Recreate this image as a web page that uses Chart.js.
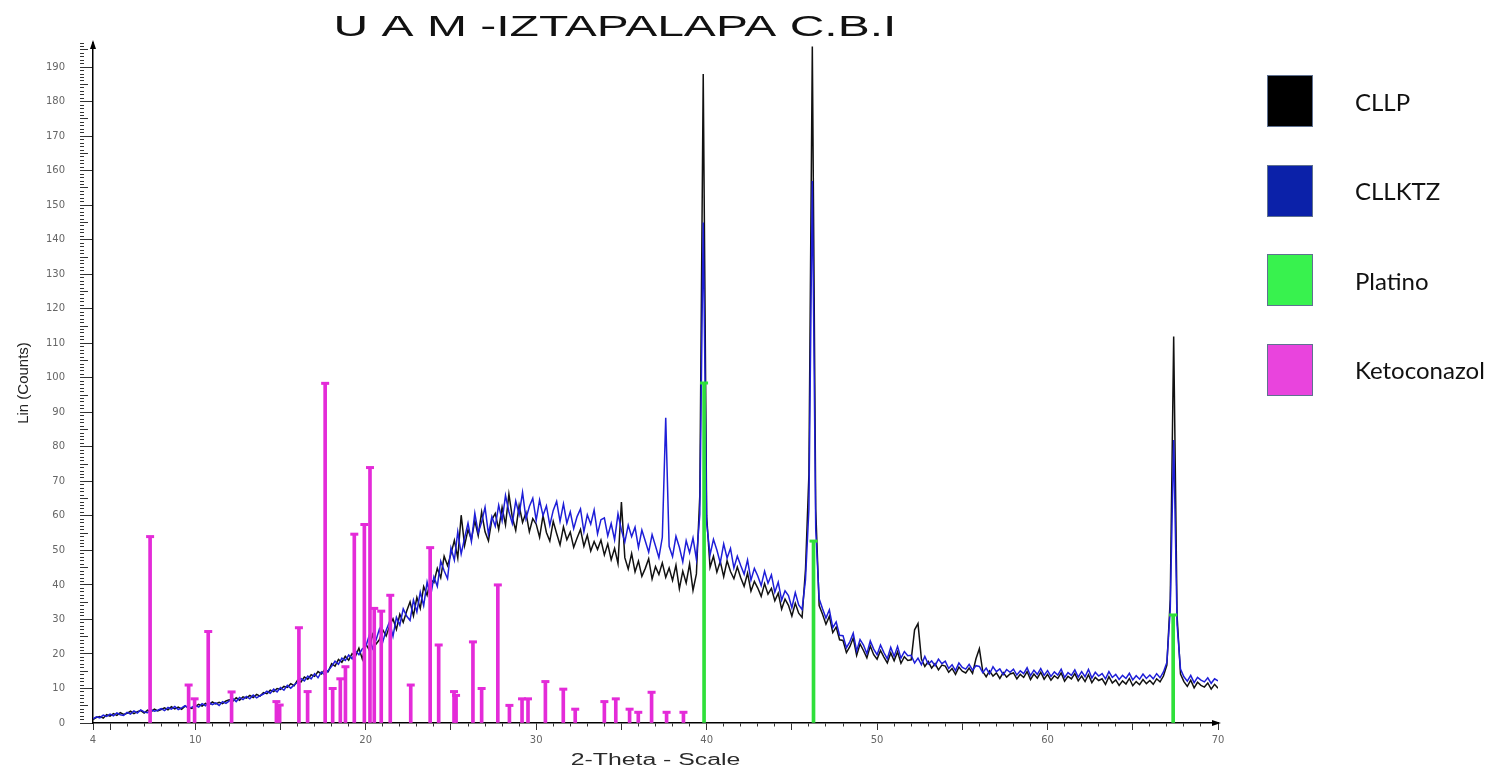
<!DOCTYPE html>
<html>
<head>
<meta charset="utf-8">
<title>UAM-Iztapalapa CBI - DRX</title>
<script src="https://cdn.jsdelivr.net/npm/chart.js@4.4.1/dist/chart.umd.min.js"></script>
<style>
    body { margin: 0; background: #fff; }
    #wrap { position: relative; width: 1507px; height: 768px; overflow: hidden; }
    #myChart { position: absolute; left: 0; top: 0; }
    #legend { position: absolute; left: 1267px; top: 75px; }
    .item { display: flex; align-items: center; height: 52px; margin-bottom: 37.5px; }
    .box { width: 46px; height: 52px; box-sizing: border-box; border: 1px solid #5f7190; }
    .name { margin-left: 42px; font: 24px Lato, "Open Sans", sans-serif; color: #111; }
</style>
</head>
<body>
<div id="wrap">
    <canvas id="myChart" width="1507" height="768"></canvas>
    <div id="legend"></div>
</div>
<script>
// 2-theta grid of the two scans (degrees)
const thetaStart = 4;
const thetaStep = 0.2;

// CLLP scan, counts every 0.2 deg from 4 to 70
const cllp = [
    1.0, 1.6, 1.9, 1.4, 2.4, 2.0, 2.7, 2.2, 3.0, 2.5,
    2.8, 3.4, 2.7, 3.3, 3.6, 2.9, 3.7, 3.2, 4.0, 3.5,
    3.9, 4.4, 3.8, 4.7, 4.1, 4.6, 4.0, 4.9, 4.5, 4.2,
    4.8, 5.4, 4.9, 5.7, 5.2, 6.1, 5.5, 6.0, 5.6, 6.4,
    6.7, 6.3, 7.3, 6.6, 7.6, 7.2, 8.0, 7.4, 8.3, 7.8,
    8.8, 8.5, 9.5, 9.1, 10.0, 9.7, 10.6, 10.3, 11.4, 10.8,
    12.4, 11.9, 13.3, 12.7, 14.0, 13.5, 14.9, 14.2, 15.5, 14.9,
    17.2, 16.5, 18.4, 17.6, 19.3, 18.2, 20.1, 19.4, 21.7, 18.5,
    23.0, 21.2, 25.6, 22.8, 24.1, 27.0, 25.2, 28.1, 30.2, 27.1,
    31.5, 29.2, 32.4, 35.1, 31.0, 36.4, 33.2, 39.5, 37.0, 41.6,
    40.7, 44.8, 42.1, 48.3, 45.6, 49.0, 52.9, 47.8, 60.2, 51.4,
    56.0, 53.2, 58.6, 54.3, 61.1, 55.4, 52.8, 58.9, 60.7, 56.1,
    62.5, 57.4, 66.3, 59.6, 55.8, 63.0, 58.1, 60.9, 55.4, 59.2,
    57.6, 53.8, 60.1, 55.2, 52.7, 58.4, 54.9, 51.6, 56.8, 53.1,
    55.3, 50.9, 53.6, 56.1, 51.2, 54.4, 49.8, 52.6, 50.3, 53.0,
    48.7, 51.9, 47.3, 50.6, 46.2, 64.0, 47.9, 44.6, 49.1, 43.8,
    46.9, 42.5, 44.8, 47.6, 41.7, 45.3, 43.0, 46.4, 42.2, 44.9,
    41.3, 45.7, 38.9, 44.0, 40.6, 46.1, 38.4, 43.2, 66.0, 188.0,
    60.0, 45.1, 48.3, 43.7, 46.8, 42.4, 47.0, 43.9, 41.8, 45.2,
    42.1, 39.6, 43.4, 38.2, 41.0, 39.1, 36.7, 40.4, 37.3, 39.0,
    35.4, 37.6, 33.0, 35.9, 34.1, 31.0, 34.7, 31.8, 30.6, 44.5,
    72.0, 196.0, 62.0, 34.0, 31.5, 28.6, 30.9, 26.2, 27.8, 24.1,
    23.9, 20.4, 22.1, 24.6, 19.6, 22.9, 21.0, 18.9, 22.3, 19.8,
    18.5, 21.0, 19.1, 17.4, 20.3, 18.0, 20.6, 17.3, 19.2, 18.1,
    18.3, 27.0, 28.8, 18.5, 16.4, 17.8, 15.9, 17.2, 15.4, 16.8,
    16.5, 14.7, 15.8, 14.1, 16.2, 15.0, 14.5, 15.9, 14.4, 18.6,
    21.5, 14.9, 13.4, 15.1, 13.6, 14.5, 12.9, 14.6, 13.3, 14.2,
    14.5, 12.8, 14.1, 13.2, 14.9, 12.6, 14.2, 13.0, 14.7, 12.7,
    14.1, 12.4, 13.7, 12.9, 14.5, 12.1, 13.5, 12.8, 14.3, 12.2,
    13.6, 12.0, 14.0, 11.7, 13.2, 12.3, 12.8, 11.2, 13.4, 11.6,
    12.5, 10.9, 12.2, 11.3, 12.9, 10.8, 12.0, 11.1, 12.6, 11.4,
    12.3, 11.2, 12.8, 11.9, 13.6, 16.8, 36.0, 112.0, 31.0, 14.2,
    12.0, 10.6, 12.4, 10.2, 11.8, 10.9, 10.4, 11.6, 9.8, 11.2,
    10.1
];

// CLLKTZ scan, same grid
const cllktz = [
    1.2, 1.8, 1.5, 2.3, 1.9, 2.6, 2.1, 2.9, 2.4, 2.2,
    3.1, 2.6, 3.5, 2.9, 3.8, 3.2, 3.0, 3.9, 3.4, 3.7,
    4.2, 3.6, 4.5, 4.0, 4.8, 3.9, 4.4, 5.0, 4.3, 4.6,
    5.1, 4.6, 5.6, 5.0, 6.0, 5.3, 5.8, 5.1, 6.2, 5.7,
    6.4, 7.1, 6.2, 7.4, 6.8, 7.7, 7.0, 8.1, 7.3, 7.9,
    8.4, 9.2, 8.6, 9.8, 9.0, 10.3, 9.5, 10.9, 10.1, 11.0,
    11.8, 12.9, 12.2, 13.6, 12.8, 14.3, 13.1, 14.8, 13.9, 15.2,
    16.4, 17.9, 17.0, 18.8, 18.1, 19.7, 18.6, 20.9, 19.8, 21.5,
    22.1, 25.3, 21.6, 24.0, 27.2, 23.5, 26.9, 29.4, 25.1, 30.6,
    28.4, 33.1, 31.0, 29.7, 35.6, 32.2, 37.9, 34.0, 40.8, 36.5,
    42.3, 39.6, 46.9, 44.1, 41.8, 50.7, 47.2, 55.4, 49.0, 53.6,
    57.9, 52.6, 60.8, 55.1, 58.2, 62.5, 54.7, 59.8, 57.0, 63.1,
    58.6, 65.9, 61.2, 57.8, 64.3, 60.4, 66.8, 59.2, 62.7, 65.1,
    58.7, 64.6, 60.1, 62.9, 57.3, 61.6, 64.2, 58.4, 63.5, 57.9,
    61.2, 56.3, 59.8, 62.0, 55.4, 60.3, 57.6, 61.7, 54.8, 58.9,
    59.4, 54.2, 57.8, 53.1, 60.6, 55.9, 52.4, 57.3, 54.0, 56.7,
    50.8, 55.9, 52.7, 49.5, 54.6, 51.3, 47.9, 53.8, 88.4, 51.2,
    48.2, 54.1, 50.9, 46.7, 52.8, 49.3, 53.6, 47.4, 60.5, 145.0,
    58.0, 48.7, 53.2, 50.1, 46.4, 51.9, 47.8, 50.6, 44.9, 48.3,
    45.6, 43.1, 47.2, 41.4, 44.8, 42.6, 39.8, 44.0, 40.5, 42.9,
    37.9, 40.8, 35.6, 38.3, 36.9, 33.4, 37.8, 34.2, 32.9, 41.5,
    62.0, 157.0, 56.0, 36.0, 33.1, 30.4, 32.8, 27.6, 29.3, 25.4,
    25.3, 21.8, 23.5, 26.0, 20.9, 24.2, 22.6, 20.1, 23.8, 21.4,
    19.8, 22.6, 20.4, 18.6, 21.9, 19.3, 22.2, 18.8, 20.7, 19.5,
    19.6, 17.4, 18.8, 16.9, 19.3, 17.1, 18.0, 16.6, 18.5, 17.2,
    17.9, 15.8, 16.9, 15.2, 17.4, 16.1, 15.6, 17.0, 15.3, 16.6,
    16.4, 14.6, 15.9, 14.2, 16.3, 14.9, 15.7, 14.0, 15.5, 14.7,
    15.6, 13.9, 15.1, 14.3, 16.0, 13.7, 15.3, 14.1, 15.8, 13.8,
    15.2, 13.5, 14.8, 13.9, 15.6, 13.2, 14.6, 13.8, 15.4, 13.3,
    14.9, 13.4, 15.5, 13.0, 14.7, 13.6, 14.3, 12.8, 14.9, 13.2,
    14.1, 12.6, 13.8, 12.9, 14.4, 12.5, 13.7, 12.7, 14.2, 12.9,
    13.9, 12.8, 14.3, 13.1, 14.8, 17.5, 33.0, 82.0, 28.5, 15.6,
    13.4, 12.1, 13.8, 11.7, 13.2, 12.4, 11.9, 13.1, 11.5, 12.8,
    12.2
];

// reference patterns (stick lines)
const platinoTheta = [39.85, 46.27, 67.37];
const platinoCounts = [98.5, 52.7, 31.3];

const ketoTheta = [7.35, 9.61, 9.96, 10.76, 12.13, 14.76, 14.95, 16.08, 16.59, 17.62,
    18.06, 18.51, 18.81, 19.33, 19.92, 20.25, 20.5, 20.91, 21.44, 22.64,
    23.78, 24.28, 25.18, 25.3, 26.29, 26.8, 27.75, 28.43, 29.17, 29.52,
    30.54, 31.59, 32.29, 34.0, 34.67, 35.48, 35.99, 36.77, 37.65, 38.64];
const ketoCounts = [54, 11, 7, 26.5, 9, 6.2, 5.2, 27.6, 9.1, 98.4,
    10, 12.8, 16.3, 54.7, 57.5, 74, 33.2, 32.4, 37, 11,
    50.8, 22.6, 9.1, 8, 23.5, 10, 40, 5.1, 7, 7,
    12, 9.8, 4, 6.2, 7, 4, 3.1, 8.9, 3.1, 3.1];

const seriesNames = ['CLLP', 'CLLKTZ', 'Platino', 'Ketoconazol'];
const legendColors = ['#000000', '#0b21a9', '#38f24e', '#e944dd'];

const titleText = 'U A M -IZTAPALAPA C.B.I';
const xTitle = '2-Theta - Scale';
const yTitle = 'Lin (Counts)';

function scan(values) {
    return values.map((v, i) => ({ x: +(thetaStart + i * thetaStep).toFixed(1), y: v }));
}
function sticks(theta, counts) {
    return theta.map((t, i) => ({ x: t, y: counts[i] }));
}

// text squeezed out sideways, like the old diffractometer printout
function wideText(ctx, text, x, y, font, sx, color) {
    ctx.save();
    ctx.translate(x, y);
    ctx.scale(sx, 1);
    ctx.font = font;
    ctx.fillStyle = color;
    ctx.textAlign = 'center';
    ctx.textBaseline = 'middle';
    ctx.fillText(text, 0, 0);
    ctx.restore();
}

const decorations = {
    id: 'decorations',
    afterDraw(chart) {
        const ctx = chart.ctx;
        const area = chart.chartArea;
        ctx.save();
        ctx.fillStyle = '#000';
        // arrow heads on the axes
        ctx.beginPath();
        ctx.moveTo(area.left, area.top - 3);
        ctx.lineTo(area.left - 3, area.top + 6);
        ctx.lineTo(area.left + 3, area.top + 6);
        ctx.fill();
        ctx.beginPath();
        ctx.moveTo(area.right + 3, area.bottom);
        ctx.lineTo(area.right - 6, area.bottom - 3);
        ctx.lineTo(area.right - 6, area.bottom + 3);
        ctx.fill();
        ctx.restore();
        wideText(ctx, titleText, 615, 28, '30px "Liberation Sans", Arial', 1.6, '#111');
        wideText(ctx, xTitle, (area.left + area.right) / 2, 761, '16px "Liberation Sans", Arial', 1.55, '#2a2a2a');
    }
};

function yDash(c) {
    let v = Math.round(c.tick.value);
    if (v % 10 === 0) return [];
    if (v % 5 === 0) return [8, 40];
    return [4, 40];
}
function xDash(c) {
    let v = Math.round(c.tick.value);
    if (v % 5 === 0 || v === 4) return [];
    return [3, 40];
}

const tickFont = { family: 'DejaVu Sans', size: 10 };

const config = {
    type: 'line',
    data: {
        datasets: [
            {
                type: 'scatter', data: sticks(ketoTheta, ketoCounts),
                pointStyle: 'line', pointRadius: 4, borderWidth: 3,
                borderColor: '#e42bd8', backgroundColor: '#e42bd8', order: 0
            },
            {
                type: 'bar', label: seriesNames[3], data: sticks(ketoTheta, ketoCounts),
                backgroundColor: '#e42bd8', barThickness: 3, grouped: false, order: 1
            },
            {
                type: 'scatter', data: sticks(platinoTheta, platinoCounts),
                pointStyle: 'line', pointRadius: 4, borderWidth: 3,
                borderColor: '#2fe03a', backgroundColor: '#2fe03a', order: 2
            },
            {
                type: 'bar', label: seriesNames[2], data: sticks(platinoTheta, platinoCounts),
                backgroundColor: '#2fe03a', barThickness: 3, grouped: false, order: 3
            },
            {
                label: seriesNames[1], data: scan(cllktz),
                borderColor: '#1e1ed8', borderWidth: 1.5, pointRadius: 0, tension: 0, order: 4
            },
            {
                label: seriesNames[0], data: scan(cllp),
                borderColor: '#111111', borderWidth: 1.5, pointRadius: 0, tension: 0, order: 5
            }
        ]
    },
    options: {
        responsive: false,
        animation: false,
        events: [],
        layout: { padding: { left: 0, top: 43, right: 289, bottom: 0 } },
        plugins: { legend: { display: false }, tooltip: { enabled: false }, title: { display: false } },
        scales: {
            x: {
                type: 'linear', min: 4, max: 70, offset: false,
                border: { color: '#000', width: 1.5 },
                grid: { drawOnChartArea: false, offset: false, tickLength: 7, tickColor: '#333', tickBorderDash: xDash },
                ticks: {
                    stepSize: 1, autoSkip: false, maxRotation: 0, includeBounds: false, padding: 4,
                    color: '#666', font: tickFont,
                    callback: v => (v === 4 || v % 10 === 0) ? String(v) : ''
                },
                afterFit: s => { s.height = 45; }
            },
            y: {
                min: 0, max: 197,
                border: { color: '#000', width: 1.5 },
                grid: { drawOnChartArea: false, tickLength: 13, tickColor: '#333', tickBorderDash: yDash },
                ticks: {
                    stepSize: 1, autoSkip: false, includeBounds: false, padding: 15,
                    color: '#666', font: tickFont,
                    callback: v => v % 10 === 0 ? String(v) : ''
                },
                title: {
                    display: true, text: yTitle, color: '#222',
                    font: { family: 'Liberation Sans', size: 15 }, padding: { top: 15, bottom: 0 }
                },
                afterFit: s => { s.width = 93; }
            }
        }
    },
    plugins: [decorations]
};

const chart = new Chart(document.getElementById('myChart'), config);

// legend on the right side
let legend = document.getElementById('legend');
seriesNames.forEach((name, i) => {
    let item = document.createElement('div');
    item.className = 'item';
    item.innerHTML = '<div class="box" style="background:' + legendColors[i] + '"></div><span class="name">' + name + '</span>';
    legend.appendChild(item);
});
</script>
</body>
</html>
